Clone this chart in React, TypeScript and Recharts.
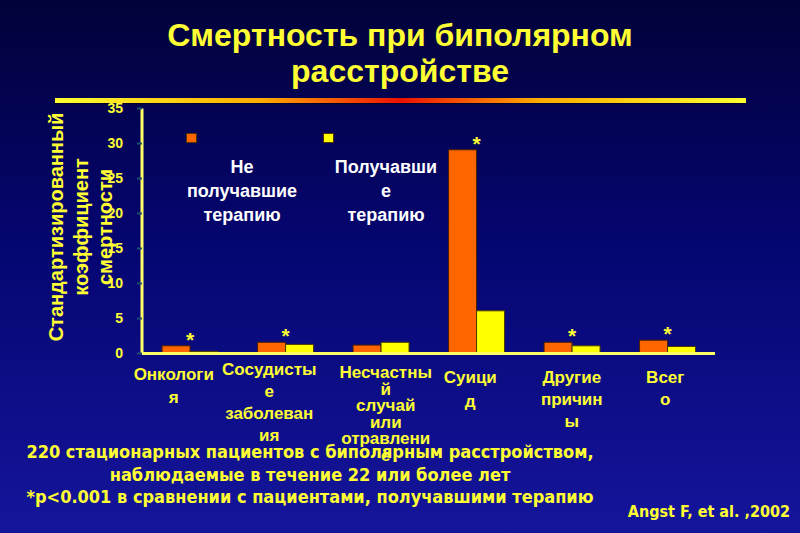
import { BarChart, Bar, XAxis, YAxis } from 'recharts';

// categories as they wrap on the slide
const categories = [
  'Онкологи\nя',
  'Сосудисты\nе\nзаболеван\nия',
  'Несчастны\nй\nслучай\nили\nотравлени\nе',
  'Суици\nд',
  'Другие\nпричин\nы',
  'Всег\nо',
];
const untreated = [1.1, 1.6, 1.2, 29.1, 1.6, 1.9];
const treated = [0.3, 1.3, 1.6, 6.1, 1.1, 1.0];
const significant = [true, true, false, true, true, true];
const yTicks = [0, 5, 10, 15, 20, 25, 30, 35];
const seriesNames = ['Не\nполучавшие\nтерапию', 'Получавши\nе\nтерапию'];

const data = categories.map((c, i) => ({ cat: c, untreated: untreated[i], treated: treated[i] }));

const ORANGE = '#FF6600';
const YELLOW = '#FFFF00';
const TEXT_YELLOW = '#FFFF33';
const FONT = '"Liberation Sans", Arial, sans-serif';
const NARROW = '"Liberation Sans Narrow", "DejaVu Sans Condensed", sans-serif';

// per-label nudges (text boxes on the slide are not centred on the groups)
const tickNudge = [
  { dx: -16, dy: 26.5, lh: 23 },
  { dx: -16, dy: 21.5, lh: 22 },
  { dx: 5, dy: 24.5, lh: 16.6 },
  { dx: -6, dy: 29.5, lh: 24 },
  { dx: 0, dy: 29.5, lh: 22 },
  { dx: -2, dy: 29.5, lh: 22 },
];

function CategoryTick(props: any) {
  const { x, y, payload, index } = props;
  const n = tickNudge[index] || { dx: 0, dy: 26, lh: 22 };
  const lines = String(payload.value).split('\n');
  return (
    <g>
      {lines.map((l, i) => (
        <text
          key={i}
          x={x + n.dx}
          y={y + n.dy + i * n.lh}
          textAnchor="middle"
          fill={TEXT_YELLOW}
          fontFamily={FONT}
          fontWeight="bold"
          fontSize={17}
        >
          {l}
        </text>
      ))}
    </g>
  );
}

function StarLabel(props: any) {
  const { x, y, width, index } = props;
  if (!significant[index]) return null;
  return (
    <text x={x + width} y={y + 1} textAnchor="middle" fill={TEXT_YELLOW} fontFamily={FONT} fontWeight="bold" fontSize={21}>
      *
    </text>
  );
}

function SeriesLegend() {
  const colors = [ORANGE, YELLOW];
  const items = [
    { sq: 186, cx: 242 },
    { sq: 323, cx: 386 },
  ];
  return (
    <div style={{ position: 'absolute', left: 0, top: 133, width: 800, height: 100 }}>
      {items.map((it, i) => (
        <div key={i}>
          <div
            style={{
              position: 'absolute',
              left: it.sq,
              top: 0,
              width: 11,
              height: 10,
              background: colors[i],
              border: '1px solid #553300',
              boxSizing: 'border-box',
            }}
          />
          <div
            style={{
              position: 'absolute',
              left: it.cx - 80,
              top: 22,
              width: 160,
              textAlign: 'center',
              color: '#FFFFFF',
              fontFamily: FONT,
              fontWeight: 'bold',
              fontSize: 18,
              lineHeight: '24px',
              whiteSpace: 'pre-line',
            }}
          >
            {seriesNames[i]}
          </div>
        </div>
      ))}
    </div>
  );
}

export default function App() {
  return (
    <div
      style={{
        position: 'absolute',
        left: 0,
        top: 0,
        width: 800,
        height: 533,
        overflow: 'hidden',
        background: 'linear-gradient(to bottom, #02023a 0%, #050570 45%, #15159c 100%)',
        fontFamily: FONT,
      }}
    >
      <div
        style={{
          position: 'absolute',
          left: 0,
          top: 17,
          width: 800,
          textAlign: 'center',
          color: TEXT_YELLOW,
          fontWeight: 'bold',
          fontSize: 32,
          lineHeight: '36px',
        }}
      >
        Смертность при биполярном
        <br />
        расстройстве
      </div>
      <div
        style={{
          position: 'absolute',
          left: 55,
          top: 98,
          width: 691,
          height: 5,
          background: 'linear-gradient(to right, #ffff33 0%, #ffaa00 30%, #ee1100 50%, #ffaa00 70%, #ffff33 100%)',
          boxShadow: '0 1px 2px rgba(0,0,0,0.6)',
        }}
      />
      <SeriesLegend />
      <div style={{ position: 'absolute', left: 0, top: 0 }}>
        <BarChart
          width={800}
          height={533}
          data={data}
          margin={{ top: 108.5, right: 85, bottom: 149.5, left: 102 }}
          barCategoryGap="21%"
          barGap={0}
        >
          <XAxis
            dataKey="cat"
            height={30}
            axisLine={{ stroke: '#FFFF66', strokeWidth: 3 }}
            tickLine={false}
            tickSize={0}
            tickMargin={0}
            interval={0}
            tick={<CategoryTick />}
          />
          <YAxis
            width={40}
            domain={[0, 35]}
            ticks={yTicks}
            interval={0}
            axisLine={{ stroke: '#FFFF66', strokeWidth: 3 }}
            tickLine={{ stroke: '#1f4f70', strokeWidth: 2 }}
            tickSize={5}
            tickMargin={14}
            tick={{ fill: TEXT_YELLOW, fontSize: 14, fontWeight: 'bold', fontFamily: FONT }}
          />
          <Bar dataKey="untreated" fill={ORANGE} stroke="#4a2000" strokeWidth={1} isAnimationActive={false} label={<StarLabel />} />
          <Bar dataKey="treated" fill={YELLOW} stroke="#4a3a00" strokeWidth={1} isAnimationActive={false} />
        </BarChart>
      </div>
      <div
        style={{
          position: 'absolute',
          left: 81,
          top: 227,
          transform: 'translate(-50%, -50%) rotate(-90deg)',
          color: TEXT_YELLOW,
          fontWeight: 'bold',
          fontSize: 20,
          lineHeight: '24.5px',
          textAlign: 'center',
          whiteSpace: 'nowrap',
        }}
      >
        Стандартизированный
        <br />
        коэффициент
        <br />
        смертности
      </div>
      <div
        style={{
          position: 'absolute',
          left: 10,
          top: 441,
          width: 600,
          textAlign: 'center',
          color: TEXT_YELLOW,
          fontFamily: NARROW,
          fontWeight: 'bold',
          fontSize: 18,
          lineHeight: '22.5px',
        }}
      >
        220 стационарных пациентов с биполярным расстройством,
        <br />
        наблюдаемые в течение 22 или более лет
        <br />
        *p&lt;0.001 в сравнении с пациентами, получавшими терапию
      </div>
      <div
        style={{
          position: 'absolute',
          right: 10,
          top: 502,
          color: TEXT_YELLOW,
          fontFamily: NARROW,
          fontWeight: 'bold',
          fontSize: 16,
          whiteSpace: 'nowrap',
        }}
      >
        Angst F, et al. ,2002
      </div>
    </div>
  );
}
